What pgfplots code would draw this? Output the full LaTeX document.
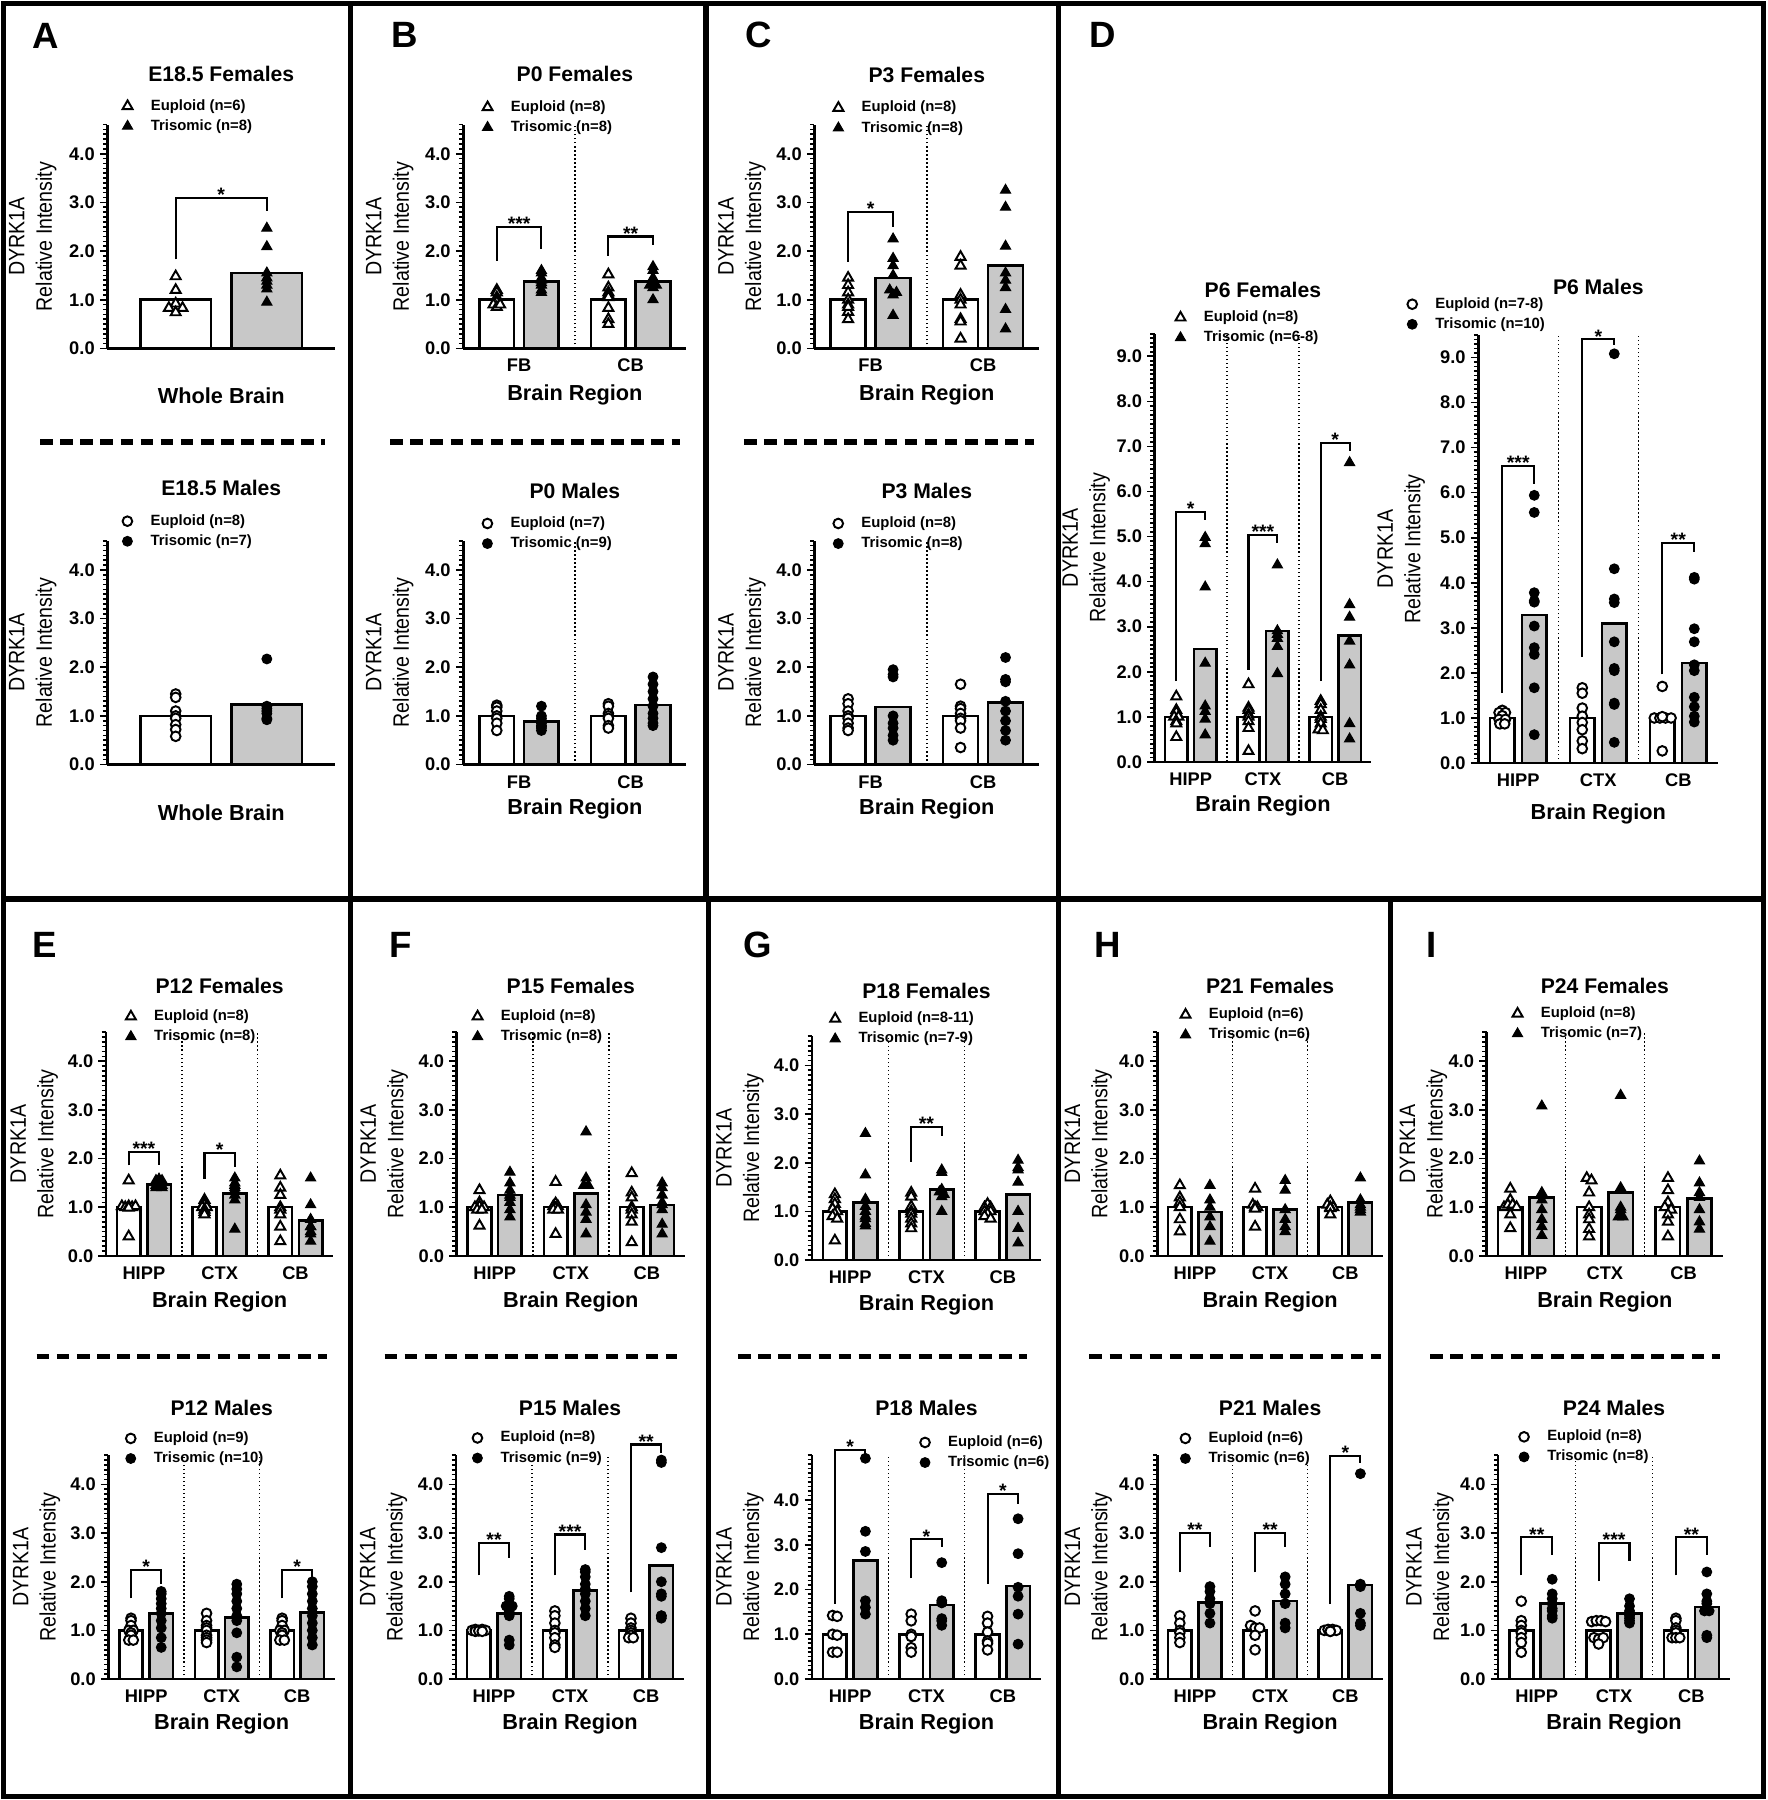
\documentclass[border=0pt]{standalone}
\usepackage{fontspec}
\setmainfont{Liberation Sans}
\newfontfamily\ylfont{Liberation Sans}[FakeStretch=0.88]
\usepackage{pgfplots}
\pgfplotsset{compat=1.18}
\definecolor{barg}{RGB}{200,200,200}
\newcommand{\ttl}{\bfseries\fontsize{18.5}{20}\selectfont}
\newcommand{\xlb}{\bfseries\fontsize{19}{21}\selectfont}
\newcommand{\ylb}{\ylfont\fontsize{19.5}{24}\selectfont}
\newcommand{\tkl}{\bfseries\fontsize{16}{17}\selectfont}
\newcommand{\xtk}{\bfseries\fontsize{16}{17}\selectfont}
\newcommand{\lgf}{\bfseries\fontsize{13}{14}\selectfont}
\newcommand{\stf}{\bfseries\fontsize{17}{17}\selectfont}
\tikzset{sig/.style={font=\stf, anchor=base, yshift=-3.2bp, inner sep=0pt}}
\pgfplotsset{
  legend image code/.code={\draw[#1] plot coordinates {(0bp,0bp)};},
  prism/.style={
    scale only axis, clip=false, anchor=south west,
    axis x line*=bottom, axis y line*=left,
    axis line style={line width=2.2bp, black},
    xmin=0.5, ymin=0,
    every tick/.style={black, line width=1.4bp},
    xtick style={draw=none},
    major tick length=6.5bp, minor tick length=3.8bp,
    minor y tick num=9,
    extra y tick style={major tick length=3.8bp},
    extra y tick labels={},
    tick align=outside,
    every axis title shift=0pt,
    yticklabel style={font=\tkl, anchor=east, xshift=-1bp},
    xticklabel style={font=\xtk, anchor=base, yshift=-14bp},
    title style={font=\ttl, anchor=center},
    xlabel style={font=\xlb, anchor=center},
    ylabel style={font=\ylb, align=center, anchor=center},
    legend style={draw=none, fill=none, font=\lgf, anchor=north west, inner sep=0pt, outer sep=0pt,
      row sep=5.5bp, column sep=16bp, nodes={inner sep=0pt, text height=9.5bp, text depth=2.5bp}},
    legend cell align=left,
  },
  tsh/.style={title style={at={([yshift=#1bp]axis description cs:0.5,1)}}},
  xsh/.style={xlabel style={at={([yshift=-#1bp]axis description cs:0.5,0)}}},
  ysh/.style={ylabel style={at={([xshift=-#1bp]axis description cs:0,0.5)}}},
  lsh/.style 2 args={legend style={at={([xshift=#1bp,yshift=#2bp]axis description cs:0,1)}}},
  h46/.style={height=195bp, ymax=4.6, ytick={0,1,2,3,4}, yticklabels={0.0,1.0,2.0,3.0,4.0}, extra y ticks={4.1,4.2,4.3,4.4,4.5,4.6}},
  h50/.style={height=195bp, ymax=5.0, ytick={0,1,2,3,4}, yticklabels={0.0,1.0,2.0,3.0,4.0}, extra y ticks={4.1,4.2,4.3,4.4,4.5,4.6,4.7,4.8,4.9,5.0}},
  h95/.style={height=373bp, ymax=9.5, ytick={0,1,2,3,4,5,6,7,8,9}, yticklabels={0.0,1.0,2.0,3.0,4.0,5.0,6.0,7.0,8.0,9.0}, extra y ticks={9.1,9.2,9.3,9.4,9.5}},
  cat1/.style={xmax=1.5, xtick=\empty},
  cat2/.style={xmax=2.5, xtick={1,2}, xticklabels={FB,CB}, xlabel={Brain Region}},
  cat3/.style={xmax=3.5, xtick={1,2,3}, xticklabels={HIPP,CTX,CB}, xlabel={Brain Region}},
  yl/.style={ylabel={DYRK1A\\Relative Intensity}},
  eupbar/.style={ybar, bar width=0.31, bar shift=0pt, fill=white, draw=black, line width=2.2bp, forget plot},
  tribar/.style={ybar, bar width=0.31, bar shift=0pt, fill=barg, draw=black, line width=2.2bp, forget plot},
  dsep/.style={black, line width=1.3bp, dash pattern=on 1.3bp off 2.2bp, forget plot},
  brkt/.style={black, line width=1.8bp, forget plot},
  eupF/.style={only marks, mark=triangle*, mark size=5bp, mark options={fill=white, draw=black, line width=1.7bp, solid}},
  triF/.style={only marks, mark=triangle*, mark size=5bp, mark options={fill=black, draw=black, line width=1bp, solid}},
  eupM/.style={only marks, mark=*, mark size=4.2bp, mark options={fill=white, draw=black, line width=1.7bp, solid}},
  triM/.style={only marks, mark=*, mark size=4.2bp, mark options={fill=black, draw=black, line width=1bp, solid}},
}
\begin{document}
\begin{tikzpicture}[x=1bp,y=1bp]
\useasboundingbox (0,0) rectangle (1540,-1568);
\fill[white] (0,0) rectangle (1540,-1568);

% ================= A =================
\begin{axis}[prism, h46, cat1, at={(93.5bp,-303.5bp)}, width=198.5bp,
 title={E18.5 Females}, tsh=44.5, xlabel={Whole Brain}, xsh=41.5, yl, ysh=65, lsh={13.3}{22}]
\addplot[eupbar] coordinates {(0.8,1.0)};
\addplot[tribar] coordinates {(1.2,1.55)};
\addplot[brkt] coordinates {(0.8,1.83)(0.8,3.09)(1.2,3.09)(1.2,2.82)};
\node[sig] at (axis cs:1,3.09) {*};
\addplot[eupF] coordinates {(0.8,1.48)(0.8,1.2)(0.8,0.92)(0.77,0.83)(0.83,0.83)(0.8,0.74)};
\addlegendentry{Euploid (n=6)}
\addplot[triF] coordinates {(1.2,2.47)(1.2,2.09)(1.2,1.55)(1.2,1.45)(1.2,1.38)(1.2,1.3)(1.2,1.22)(1.2,0.95)};
\addlegendentry{Trisomic (n=8)}
\end{axis}

\begin{axis}[prism, h46, cat1, at={(93.5bp,-666bp)}, width=198.5bp,
 title={E18.5 Males}, tsh=46, xlabel={Whole Brain}, xsh=41.6, yl, ysh=65, lsh={13.3}{23}]
\addplot[eupbar] coordinates {(0.8,1.0)};
\addplot[tribar] coordinates {(1.2,1.23)};
\addplot[eupM] coordinates {(0.8,1.45)(0.8,1.38)(0.8,1.1)(0.8,1.0)(0.8,0.95)(0.8,0.82)(0.8,0.72)(0.8,0.58)};
\addlegendentry{Euploid (n=8)}
\addplot[triM] coordinates {(1.2,2.17)(1.2,1.2)(1.2,1.15)(1.2,1.1)(1.2,1.05)(1.2,0.95)(1.2,0.92)};
\addlegendentry{Trisomic (n=7)}
\end{axis}

% ================= B =================
\begin{axis}[prism, h46, cat2, at={(403.6bp,-303.5bp)}, width=194.4bp,
 title={P0 Females}, tsh=44.5, xsh=40.5, yl, ysh=64, lsh={16.8}{21}]
\addplot[eupbar] coordinates {(0.8,1.0)(1.8,1.0)};
\addplot[tribar] coordinates {(1.2,1.37)(2.2,1.37)};
\addplot[dsep] coordinates {(1.5,0)(1.5,4.6)};
\addplot[brkt] coordinates {(0.8,1.8)(0.8,2.5)(1.2,2.5)(1.2,2.05)};
\node[sig] at (axis cs:1,2.5) {***};
\addplot[brkt] coordinates {(1.8,1.9)(1.8,2.3)(2.2,2.3)(2.2,2.12)};
\node[sig] at (axis cs:2,2.3) {**};
\addplot[eupF] coordinates {(0.8,1.2)(0.8,1.15)(0.8,1.05)(0.8,1.0)(0.8,0.95)(0.77,0.9)(0.8,0.85)(0.83,0.9)
 (1.8,1.52)(1.8,1.25)(1.8,1.15)(1.8,1.1)(1.8,1.05)(1.8,0.83)(1.8,0.6)(1.8,0.5)};
\addlegendentry{Euploid (n=8)}
\addplot[triF] coordinates {(1.2,1.6)(1.2,1.55)(1.2,1.45)(1.2,1.4)(1.2,1.35)(1.2,1.3)(1.2,1.2)(1.2,1.15)
 (2.2,1.68)(2.2,1.6)(2.2,1.45)(2.2,1.35)(2.17,1.3)(2.2,1.25)(2.2,1.0)(2.23,1.3)};
\addlegendentry{Trisomic (n=8)}
\end{axis}

\begin{axis}[prism, h46, cat2, at={(403.6bp,-666bp)}, width=194.4bp,
 title={P0 Males}, tsh=43.5, xsh=39, yl, ysh=64, lsh={16.8}{21}]
\addplot[eupbar] coordinates {(0.8,1.0)(1.8,1.0)};
\addplot[tribar] coordinates {(1.2,0.88)(2.2,1.22)};
\addplot[dsep] coordinates {(1.5,0)(1.5,4.6)};
\addplot[eupM] coordinates {(0.8,1.22)(0.8,1.18)(0.8,1.1)(0.8,1.0)(0.8,0.95)(0.8,0.85)(0.8,0.7)
 (1.8,1.25)(1.8,1.2)(1.8,1.05)(1.8,1.0)(1.8,0.95)(1.8,0.8)(1.8,0.75)};
\addlegendentry{Euploid (n=7)}
\addplot[triM] coordinates {(1.2,1.2)(1.2,1.0)(1.2,0.95)(1.2,0.9)(1.2,0.85)(1.2,0.8)(1.2,0.75)(1.2,0.7)(1.2,0.78)
 (2.2,1.8)(2.2,1.65)(2.2,1.5)(2.2,1.35)(2.2,1.2)(2.2,1.05)(2.2,0.95)(2.2,0.85)(2.2,0.8)};
\addlegendentry{Trisomic (n=9)}
\end{axis}

% ================= C =================
\begin{axis}[prism, h46, cat2, at={(709.4bp,-303.5bp)}, width=195.9bp,
 title={P3 Females}, tsh=43.5, xsh=40.5, yl, ysh=63, lsh={16.6}{20.5}]
\addplot[eupbar] coordinates {(0.8,1.0)(1.8,1.0)};
\addplot[tribar] coordinates {(1.2,1.45)(2.2,1.7)};
\addplot[dsep] coordinates {(1.5,0)(1.5,4.6)};
\addplot[brkt] coordinates {(0.8,1.78)(0.8,2.8)(1.2,2.8)(1.2,2.5)};
\node[sig] at (axis cs:1,2.8) {*};
\addplot[eupF] coordinates {(0.8,1.45)(0.8,1.3)(0.8,1.15)(0.8,1.0)(0.8,0.9)(0.8,0.75)(0.8,0.6)(0.8,0.85)
 (1.8,1.88)(1.8,1.7)(1.8,1.1)(1.8,1.0)(1.8,0.9)(1.8,0.6)(1.8,0.55)(1.8,0.2)};
\addlegendentry{Euploid (n=8)}
\addplot[triF] coordinates {(1.2,2.25)(1.2,1.85)(1.2,1.7)(1.2,1.5)(1.17,1.2)(1.23,1.15)(1.2,1.1)(1.2,0.68)
 (2.2,3.25)(2.2,2.9)(2.2,2.1)(2.2,1.55)(2.2,1.4)(2.2,1.25)(2.2,0.8)(2.2,0.4)};
\addlegendentry{Trisomic (n=8)}
\end{axis}

\begin{axis}[prism, h46, cat2, at={(709.4bp,-666bp)}, width=195.9bp,
 title={P3 Males}, tsh=43.5, xsh=39, yl, ysh=63, lsh={16.6}{21}]
\addplot[eupbar] coordinates {(0.8,1.0)(1.8,1.0)};
\addplot[tribar] coordinates {(1.2,1.18)(2.2,1.27)};
\addplot[dsep] coordinates {(1.5,0)(1.5,4.6)};
\addplot[eupM] coordinates {(0.8,1.35)(0.8,1.25)(0.8,1.1)(0.8,1.0)(0.8,0.95)(0.8,0.85)(0.8,0.75)(0.8,0.7)
 (1.8,1.65)(1.8,1.2)(1.8,1.15)(1.8,1.05)(1.8,0.95)(1.8,0.9)(1.8,0.75)(1.8,0.35)};
\addlegendentry{Euploid (n=8)}
\addplot[triM] coordinates {(1.2,1.95)(1.2,1.85)(1.2,1.8)(1.2,1.0)(1.2,0.85)(1.2,0.75)(1.2,0.6)(1.2,0.5)
 (2.2,2.2)(2.2,1.75)(2.2,1.7)(2.2,1.3)(2.2,1.1)(2.2,0.9)(2.2,0.7)(2.2,0.5)};
\addlegendentry{Trisomic (n=8)}
\end{axis}

% ================= D =================
\begin{axis}[prism, h95, cat3, at={(1005.8bp,-663.7bp)}, width=188.7bp,
 title={P6 Females}, tsh=38, xsh=38.3, yl, ysh=59.5, lsh={18.2}{20}]
\addplot[eupbar] coordinates {(0.8,1.0)(1.8,1.0)(2.8,1.0)};
\addplot[tribar] coordinates {(1.2,2.5)(2.2,2.9)(3.2,2.8)};
\addplot[dsep] coordinates {(1.5,0)(1.5,9.5)};
\addplot[dsep] coordinates {(2.5,0)(2.5,9.5)};
\addplot[brkt] coordinates {(0.8,1.79)(0.8,5.55)(1.2,5.55)(1.2,5.37)};
\node[sig] at (axis cs:1,5.55) {*};
\addplot[brkt] coordinates {(1.8,2.04)(1.8,5.03)(2.2,5.03)(2.2,4.86)};
\node[sig] at (axis cs:2,5.03) {***};
\addplot[brkt] coordinates {(2.8,1.79)(2.8,7.07)(3.2,7.07)(3.2,6.9)};
\node[sig] at (axis cs:3,7.07) {*};
\addplot[eupF] coordinates {(0.8,1.45)(0.8,1.15)(0.8,1.1)(0.77,1.0)(0.83,1.0)(0.8,0.9)(0.8,0.85)(0.8,0.55)
 (1.8,1.72)(1.8,1.2)(1.8,1.15)(1.8,1.05)(1.8,1.0)(1.8,0.9)(1.8,0.75)(1.8,0.24)
 (2.8,1.35)(2.8,1.28)(2.8,1.15)(2.8,1.0)(2.8,0.95)(2.8,0.85)(2.77,0.72)(2.83,0.7)};
\addlegendentry{Euploid (n=8)}
\addplot[triF] coordinates {(1.2,4.98)(1.2,4.84)(1.2,3.88)(1.2,2.19)(1.2,1.24)(1.2,1.12)(1.2,0.95)(1.2,0.6)
 (2.2,4.37)(2.2,2.91)(2.2,2.83)(2.2,2.74)(2.2,2.56)(2.2,1.96)
 (3.2,6.64)(3.2,3.49)(3.2,3.21)(3.2,2.68)(3.2,2.15)(3.2,0.85)(3.2,0.51)};
\addlegendentry{Trisomic (n=6-8)}
\end{axis}

\begin{axis}[prism, h95, cat3, at={(1287.7bp,-664.7bp)}, width=209.1bp,
 title={P6 Males}, tsh=41.7, xsh=44, yl, ysh=67, lsh={-61.7}{32.7}]
\addplot[eupbar] coordinates {(0.8,1.0)(1.8,1.0)(2.8,1.0)};
\addplot[tribar] coordinates {(1.2,3.28)(2.2,3.1)(3.2,2.22)};
\addplot[dsep] coordinates {(1.5,0)(1.5,9.5)};
\addplot[dsep] coordinates {(2.5,0)(2.5,9.5)};
\addplot[brkt] coordinates {(0.8,1.55)(0.8,6.6)(1.2,6.6)(1.2,6.19)};
\node[sig] at (axis cs:1,6.6) {***};
\addplot[brkt] coordinates {(1.8,2.35)(1.8,9.4)(2.2,9.4)(2.2,9.27)};
\node[sig] at (axis cs:2,9.4) {*};
\addplot[brkt] coordinates {(2.8,1.97)(2.8,4.88)(3.2,4.88)(3.2,4.69)};
\node[sig] at (axis cs:3,4.88) {**};
\addplot[eupM] coordinates {(0.8,1.17)(0.76,1.12)(0.84,1.12)(0.8,1.05)(0.76,0.97)(0.84,0.97)(0.77,0.87)(0.83,0.87)
 (1.8,1.67)(1.8,1.55)(1.8,1.22)(1.8,1.04)(1.8,0.9)(1.8,0.74)(1.8,0.49)(1.8,0.32)
 (2.8,1.7)(2.7,1.0)(2.77,1.0)(2.84,1.0)(2.91,1.0)(2.8,1.03)(2.8,0.27)};
\addlegendentry{Euploid (n=7-8)}
\addplot[triM] coordinates {(1.2,5.94)(1.2,5.56)(1.2,3.78)(1.2,3.6)(1.2,3.57)(1.2,3.04)(1.2,2.56)(1.2,2.41)(1.2,1.67)(1.2,0.63)
 (2.2,9.08)(2.2,4.31)(2.2,3.64)(2.2,3.56)(2.2,2.69)(2.2,2.05)(2.2,2.1)(2.2,1.33)(2.2,1.3)(2.2,0.46)
 (3.2,4.12)(3.2,4.08)(3.2,2.98)(3.2,2.69)(3.2,2.18)(3.2,2.05)(3.2,1.46)(3.2,1.25)(3.2,1.04)(3.2,0.91)};
\addlegendentry{Trisomic (n=10)}
\end{axis}

% ================= E =================
\begin{axis}[prism, h46, cat3, at={(92.3bp,-1094bp)}, width=198.1bp,
 title={P12 Females}, tsh=40, xsh=40, yl, ysh=62.5, lsh={17.4}{19.5}]
\addplot[eupbar] coordinates {(0.8,1.0)(1.8,1.0)(2.8,1.0)};
\addplot[tribar] coordinates {(1.2,1.47)(2.2,1.28)(3.2,0.73)};
\addplot[dsep] coordinates {(1.5,0)(1.5,4.6)};
\addplot[dsep] coordinates {(2.5,0)(2.5,4.6)};
\addplot[brkt] coordinates {(0.8,1.86)(0.8,2.14)(1.2,2.14)(1.2,1.86)};
\node[sig] at (axis cs:1,2.14) {***};
\addplot[brkt] coordinates {(1.8,1.59)(1.8,2.12)(2.2,2.12)(2.2,1.82)};
\node[sig] at (axis cs:2,2.12) {*};
\addplot[eupF] coordinates {(0.8,1.55)(0.71,1.02)(0.755,1.0)(0.8,1.02)(0.845,1.0)(0.89,1.02)(0.8,0.99)(0.8,0.4)
 (1.8,1.15)(1.8,1.1)(1.8,1.05)(1.77,1.0)(1.83,1.0)(1.8,0.95)(1.8,0.9)(1.8,0.85)
 (2.8,1.65)(2.8,1.4)(2.8,1.25)(2.8,1.0)(2.8,0.95)(2.8,0.85)(2.8,0.6)(2.8,0.3)};
\addlegendentry{Euploid (n=8)}
\addplot[triF] coordinates {(1.16,1.55)(1.24,1.55)(1.2,1.58)(1.16,1.45)(1.24,1.45)(1.2,1.48)(1.16,1.4)(1.24,1.4)
 (2.2,1.6)(2.2,1.5)(2.2,1.45)(2.2,1.4)(2.2,1.35)(2.2,1.25)(2.2,1.15)(2.2,0.55)
 (3.2,1.6)(3.2,1.05)(3.2,0.75)(3.2,0.6)(3.2,0.5)(3.2,0.45)(3.2,0.3)(3.2,0.6)};
\addlegendentry{Trisomic (n=8)}
\end{axis}

\begin{axis}[prism, h46, cat3, at={(94.4bp,-1462.6bp)}, width=197.4bp,
 title={P12 Males}, tsh=41, xsh=39, yl, ysh=62.5, lsh={15.3}{20.6}]
\addplot[eupbar] coordinates {(0.8,1.0)(1.8,1.0)(2.8,1.0)};
\addplot[tribar] coordinates {(1.2,1.35)(2.2,1.27)(3.2,1.37)};
\addplot[dsep] coordinates {(1.5,0)(1.5,4.6)};
\addplot[dsep] coordinates {(2.5,0)(2.5,4.6)};
\addplot[brkt] coordinates {(0.8,1.66)(0.8,2.25)(1.2,2.25)(1.2,1.95)};
\node[sig] at (axis cs:1,2.25) {*};
\addplot[brkt] coordinates {(2.8,1.66)(2.8,2.25)(3.2,2.25)(3.2,2.0)};
\node[sig] at (axis cs:3,2.25) {*};
\addplot[eupM] coordinates {(0.8,1.25)(0.8,1.2)(0.8,1.1)(0.77,1.0)(0.83,1.0)(0.8,0.95)(0.8,0.9)(0.77,0.8)(0.83,0.8)
 (1.8,1.35)(1.8,1.2)(1.8,1.1)(1.8,1.05)(1.8,1.0)(1.8,0.9)(1.8,0.85)(1.8,0.8)(1.8,0.75)
 (2.8,1.25)(2.8,1.2)(2.8,1.1)(2.77,1.0)(2.83,1.0)(2.8,0.95)(2.8,0.9)(2.77,0.8)(2.83,0.8)};
\addlegendentry{Euploid (n=9)}
\addplot[triM] coordinates {(1.2,1.8)(1.2,1.75)(1.2,1.65)(1.2,1.55)(1.2,1.45)(1.2,1.35)(1.2,1.2)(1.2,1.05)(1.2,0.85)(1.2,0.65)
 (2.2,1.95)(2.2,1.85)(2.2,1.75)(2.2,1.6)(2.2,1.45)(2.2,1.3)(2.2,1.2)(2.2,0.95)(2.2,0.45)(2.2,0.25)
 (3.2,2.0)(3.2,1.9)(3.2,1.75)(3.2,1.6)(3.2,1.45)(3.2,1.3)(3.2,1.15)(3.2,1.0)(3.2,0.85)(3.2,0.7)};
\addlegendentry{Trisomic (n=10)}
\end{axis}

% ================= F =================
\begin{axis}[prism, h46, cat3, at={(397.8bp,-1094bp)}, width=198.9bp,
 title={P15 Females}, tsh=40, xsh=40, yl, ysh=63, lsh={13.9}{19.5}]
\addplot[eupbar] coordinates {(0.8,1.0)(1.8,1.0)(2.8,1.0)};
\addplot[tribar] coordinates {(1.2,1.25)(2.2,1.28)(3.2,1.05)};
\addplot[dsep] coordinates {(1.5,0)(1.5,4.6)};
\addplot[dsep] coordinates {(2.5,0)(2.5,4.6)};
\addplot[eupF] coordinates {(0.8,1.35)(0.8,1.1)(0.74,1.0)(0.8,1.02)(0.86,1.0)(0.77,0.95)(0.83,0.95)(0.8,0.62)
 (1.8,1.52)(1.8,1.08)(1.77,1.02)(1.83,1.02)(1.8,0.98)(1.77,0.95)(1.83,0.95)(1.8,0.45)
 (2.8,1.7)(2.8,1.3)(2.8,1.2)(2.8,1.0)(2.8,0.95)(2.8,0.85)(2.8,0.7)(2.8,0.28)};
\addlegendentry{Euploid (n=8)}
\addplot[triF] coordinates {(1.2,1.72)(1.2,1.5)(1.2,1.35)(1.2,1.25)(1.2,1.2)(1.2,1.1)(1.2,0.95)(1.2,0.8)
 (2.2,2.55)(2.2,1.6)(2.17,1.45)(2.23,1.45)(2.2,1.05)(2.2,0.9)(2.2,0.75)(2.2,0.45)
 (3.2,1.5)(3.2,1.4)(3.2,1.25)(3.2,1.1)(3.2,1.05)(3.2,0.95)(3.2,0.65)(3.2,0.45)};
\addlegendentry{Trisomic (n=8)}
\end{axis}

\begin{axis}[prism, h46, cat3, at={(397.2bp,-1462.6bp)}, width=198.8bp,
 title={P15 Males}, tsh=41, xsh=39, yl, ysh=63, lsh={14.5}{21}]
\addplot[eupbar] coordinates {(0.8,1.0)(1.8,1.0)(2.8,1.0)};
\addplot[tribar] coordinates {(1.2,1.35)(2.2,1.82)(3.2,2.33)};
\addplot[dsep] coordinates {(1.5,0)(1.5,4.6)};
\addplot[dsep] coordinates {(2.5,0)(2.5,4.6)};
\addplot[brkt] coordinates {(0.8,2.13)(0.8,2.8)(1.2,2.8)(1.2,2.48)};
\node[sig] at (axis cs:1,2.8) {**};
\addplot[brkt] coordinates {(1.8,2.13)(1.8,2.97)(2.2,2.97)(2.2,2.65)};
\node[sig] at (axis cs:2,2.97) {***};
\addplot[brkt] coordinates {(2.8,1.78)(2.8,4.82)(3.2,4.82)(3.2,4.64)};
\node[sig] at (axis cs:3,4.82) {**};
\addplot[eupM] coordinates {(0.71,1.0)(0.755,1.02)(0.8,1.0)(0.845,1.02)(0.89,1.0)(0.755,0.98)(0.8,0.99)(0.845,0.98)
 (1.8,1.4)(1.8,1.3)(1.8,1.15)(1.8,1.0)(1.8,0.95)(1.8,0.85)(1.8,0.7)(1.8,0.65)
 (2.8,1.25)(2.8,1.15)(2.8,1.05)(2.8,1.0)(2.8,0.95)(2.8,0.9)(2.77,0.85)(2.83,0.85)};
\addlegendentry{Euploid (n=8)}
\addplot[triM] coordinates {(1.2,1.7)(1.2,1.65)(1.2,1.55)(1.16,1.5)(1.24,1.5)(1.2,1.4)(1.2,1.3)(1.2,0.8)(1.2,0.7)
 (2.2,2.25)(2.2,2.2)(2.2,2.1)(2.2,1.95)(2.2,1.85)(2.2,1.75)(2.2,1.6)(2.2,1.45)(2.2,1.3)
 (3.2,4.5)(3.2,4.45)(3.2,2.7)(3.2,2.0)(3.2,1.75)(3.2,1.7)(3.2,1.3)(3.2,1.25)(3.2,1.3)};
\addlegendentry{Trisomic (n=9)}
\end{axis}

% ================= G =================
\begin{axis}[prism, h46, cat3, at={(707.3bp,-1097.6bp)}, width=199.5bp,
 title={P18 Females}, tsh=39.6, xsh=39, yl, ysh=62.6, lsh={15.9}{21.1}]
\addplot[eupbar] coordinates {(0.8,1.0)(1.8,1.0)(2.8,1.0)};
\addplot[tribar] coordinates {(1.2,1.18)(2.2,1.45)(3.2,1.35)};
\addplot[dsep] coordinates {(1.5,0)(1.5,4.6)};
\addplot[dsep] coordinates {(2.5,0)(2.5,4.6)};
\addplot[brkt] coordinates {(1.8,2.02)(1.8,2.73)(2.2,2.73)(2.2,2.55)};
\node[sig] at (axis cs:2,2.73) {**};
\addplot[eupF] coordinates {(0.8,1.35)(0.8,1.25)(0.8,1.15)(0.77,1.05)(0.83,1.0)(0.8,0.95)(0.77,0.9)(0.83,0.85)(0.8,0.4)
 (1.8,1.38)(1.8,1.3)(1.8,1.1)(1.8,1.0)(1.8,0.95)(1.8,0.85)(1.8,0.75)(1.8,0.65)
 (2.8,1.15)(2.76,1.08)(2.84,1.08)(2.76,1.0)(2.84,1.0)(2.8,0.95)(2.76,0.9)(2.84,0.85)};
\addlegendentry{Euploid (n=8-11)}
\addplot[triF] coordinates {(1.2,2.6)(1.2,1.75)(1.2,1.25)(1.2,1.1)(1.2,1.0)(1.2,0.9)(1.2,0.85)(1.2,0.75)(1.2,0.7)
 (2.2,1.85)(2.2,1.8)(2.2,1.45)(2.17,1.4)(2.23,1.35)(2.2,1.3)(2.2,1.0)
 (3.2,2.05)(3.2,1.9)(3.2,1.85)(3.2,1.6)(3.2,1.0)(3.2,0.65)(3.2,0.35)};
\addlegendentry{Trisomic (n=7-9)}
\end{axis}

\begin{axis}[prism, h50, cat3, at={(707.3bp,-1462.6bp)}, width=199.5bp,
 title={P18 Males}, tsh=41, xsh=39, yl, ysh=62.6, lsh={94.3}{17.1}]
\addplot[eupbar] coordinates {(0.8,1.0)(1.8,1.0)(2.8,1.0)};
\addplot[tribar] coordinates {(1.2,2.65)(2.2,1.65)(3.2,2.08)};
\addplot[dsep] coordinates {(1.5,0)(1.5,5.0)};
\addplot[dsep] coordinates {(2.5,0)(2.5,5.0)};
\addplot[brkt] coordinates {(0.8,1.68)(0.8,5.12)(1.2,5.12)(1.2,5.02)};
\node[sig] at (axis cs:1,5.12) {*};
\addplot[brkt] coordinates {(1.8,2.25)(1.8,3.12)(2.2,3.12)(2.2,2.95)};
\node[sig] at (axis cs:2,3.12) {*};
\addplot[brkt] coordinates {(2.8,2.13)(2.8,4.13)(3.2,4.13)(3.2,3.9)};
\node[sig] at (axis cs:3,4.13) {*};
\addplot[eupM] coordinates {(0.77,1.42)(0.83,1.4)(0.77,1.0)(0.83,0.98)(0.77,0.6)(0.83,0.6)
 (1.8,1.45)(1.8,1.3)(1.8,1.0)(1.8,0.95)(1.8,0.7)(1.8,0.6)
 (2.8,1.4)(2.8,1.25)(2.8,1.05)(2.8,0.85)(2.8,0.8)(2.8,0.65)};
\addlegendentry{Euploid (n=6)}
\addplot[triM] coordinates {(1.2,4.93)(1.2,3.3)(1.2,2.85)(1.2,1.75)(1.2,1.6)(1.2,1.45)
 (2.2,2.6)(2.2,1.75)(2.2,1.7)(2.2,1.35)(2.2,1.3)(2.2,1.2)
 (3.2,3.58)(3.2,2.8)(3.2,2.05)(3.2,1.85)(3.2,1.45)(3.2,0.78)};
\addlegendentry{Trisomic (n=6)}
\end{axis}

% ================= H =================
\begin{axis}[prism, h46, cat3, at={(1008.1bp,-1094bp)}, width=196.6bp,
 title={P21 Females}, tsh=40, xsh=40, yl, ysh=60, lsh={20.3}{21}]
\addplot[eupbar] coordinates {(0.8,1.0)(1.8,1.0)(2.8,1.0)};
\addplot[tribar] coordinates {(1.2,0.9)(2.2,0.95)(3.2,1.1)};
\addplot[dsep] coordinates {(1.5,0)(1.5,4.6)};
\addplot[dsep] coordinates {(2.5,0)(2.5,4.6)};
\addplot[eupF] coordinates {(0.8,1.45)(0.8,1.2)(0.8,1.1)(0.8,1.0)(0.8,0.75)(0.8,0.5)
 (1.8,1.38)(1.77,1.05)(1.83,1.0)(1.8,1.0)(1.8,0.97)(1.8,0.6)
 (2.8,1.12)(2.76,1.05)(2.84,1.0)(2.8,1.0)(2.8,0.98)(2.8,0.85)};
\addlegendentry{Euploid (n=6)}
\addplot[triF] coordinates {(1.2,1.45)(1.2,1.15)(1.2,1.0)(1.2,0.8)(1.2,0.6)(1.2,0.3)
 (2.2,1.55)(2.2,1.35)(2.2,0.95)(2.2,0.75)(2.2,0.6)(2.2,0.5)
 (3.2,1.6)(3.2,1.15)(3.2,1.05)(3.2,1.0)(3.2,0.95)(3.2,0.9)};
\addlegendentry{Trisomic (n=6)}
\end{axis}

\begin{axis}[prism, h46, cat3, at={(1008.1bp,-1462.6bp)}, width=196.6bp,
 title={P21 Males}, tsh=41, xsh=39, yl, ysh=60, lsh={20.3}{20.6}]
\addplot[eupbar] coordinates {(0.8,1.0)(1.8,1.0)(2.8,1.0)};
\addplot[tribar] coordinates {(1.2,1.57)(2.2,1.6)(3.2,1.93)};
\addplot[dsep] coordinates {(1.5,0)(1.5,4.6)};
\addplot[dsep] coordinates {(2.5,0)(2.5,4.6)};
\addplot[brkt] coordinates {(0.8,2.19)(0.8,3.0)(1.2,3.0)(1.2,2.71)};
\node[sig] at (axis cs:1,3.0) {**};
\addplot[brkt] coordinates {(1.8,2.19)(1.8,3.0)(2.2,3.0)(2.2,2.71)};
\node[sig] at (axis cs:2,3.0) {**};
\addplot[brkt] coordinates {(2.8,1.54)(2.8,4.58)(3.2,4.58)(3.2,4.43)};
\node[sig] at (axis cs:3,4.58) {*};
\addplot[eupM] coordinates {(0.8,1.3)(0.8,1.15)(0.8,1.0)(0.8,0.95)(0.8,0.85)(0.8,0.75)
 (1.8,1.4)(1.74,1.1)(1.8,1.05)(1.86,1.05)(1.8,0.9)(1.8,0.6)
 (2.72,1.0)(2.77,1.02)(2.83,1.02)(2.88,1.0)(2.8,0.98)(2.8,0.98)};
\addlegendentry{Euploid (n=6)}
\addplot[triM] coordinates {(1.2,1.9)(1.2,1.8)(1.2,1.65)(1.2,1.55)(1.2,1.35)(1.2,1.15)
 (2.2,2.1)(2.2,1.95)(2.2,1.75)(2.2,1.55)(2.2,1.15)(2.2,1.05)
 (3.2,4.22)(3.2,1.95)(3.2,1.9)(3.2,1.35)(3.2,1.15)(3.2,1.1)};
\addlegendentry{Trisomic (n=6)}
\end{axis}

% ================= I =================
\begin{axis}[prism, h46, cat3, at={(1295bp,-1094bp)}, width=206bp,
 title={P24 Females}, tsh=40, xsh=40, yl, ysh=55, lsh={22.6}{22}]
\addplot[eupbar] coordinates {(0.8,1.0)(1.8,1.0)(2.8,1.0)};
\addplot[tribar] coordinates {(1.2,1.2)(2.2,1.3)(3.2,1.18)};
\addplot[dsep] coordinates {(1.5,0)(1.5,4.6)};
\addplot[dsep] coordinates {(2.5,0)(2.5,4.6)};
\addplot[eupF] coordinates {(0.8,1.38)(0.8,1.15)(0.72,1.0)(0.77,1.05)(0.83,1.05)(0.88,1.0)(0.8,0.85)(0.8,0.57)
 (1.77,1.6)(1.83,1.55)(1.8,1.3)(1.8,1.0)(1.8,0.85)(1.8,0.75)(1.8,0.55)(1.8,0.4)
 (2.8,1.6)(2.8,1.35)(2.8,1.1)(2.76,1.0)(2.84,0.95)(2.8,0.85)(2.8,0.7)(2.8,0.4)};
\addlegendentry{Euploid (n=8)}
\addplot[triF] coordinates {(1.2,3.08)(1.2,1.3)(1.2,1.15)(1.2,0.95)(1.2,0.75)(1.2,0.6)(1.2,0.42)
 (2.2,3.3)(2.2,1.4)(2.2,1.0)(2.2,0.95)(2.2,0.85)(2.17,0.8)(2.23,0.8)
 (3.2,1.95)(3.2,1.5)(3.2,1.3)(3.2,1.2)(3.2,0.95)(3.2,0.7)(3.2,0.55)};
\addlegendentry{Trisomic (n=7)}
\end{axis}

\begin{axis}[prism, h46, cat3, at={(1305bp,-1462.6bp)}, width=202bp,
 title={P24 Males}, tsh=41, xsh=39, yl, ysh=59.4, lsh={18.4}{22}]
\addplot[eupbar] coordinates {(0.8,1.0)(1.8,1.0)(2.8,1.0)};
\addplot[tribar] coordinates {(1.2,1.55)(2.2,1.35)(3.2,1.48)};
\addplot[dsep] coordinates {(1.5,0)(1.5,4.6)};
\addplot[dsep] coordinates {(2.5,0)(2.5,4.6)};
\addplot[brkt] coordinates {(0.8,2.13)(0.8,2.91)(1.2,2.91)(1.2,2.54)};
\node[sig] at (axis cs:1,2.91) {**};
\addplot[brkt] coordinates {(1.8,2.01)(1.8,2.8)(2.2,2.8)(2.2,2.42)};
\node[sig] at (axis cs:2,2.8) {***};
\addplot[brkt] coordinates {(2.8,2.13)(2.8,2.91)(3.2,2.91)(3.2,2.54)};
\node[sig] at (axis cs:3,2.91) {**};
\addplot[eupM] coordinates {(0.8,1.6)(0.8,1.2)(0.8,1.1)(0.8,1.0)(0.8,0.95)(0.8,0.85)(0.8,0.75)(0.8,0.55)
 (1.71,1.18)(1.77,1.2)(1.83,1.2)(1.89,1.18)(1.74,0.85)(1.8,0.82)(1.86,0.85)(1.8,0.72)
 (2.8,1.25)(2.8,1.2)(2.8,1.05)(2.8,1.0)(2.8,0.95)(2.75,0.85)(2.8,0.85)(2.85,0.85)};
\addlegendentry{Euploid (n=8)}
\addplot[triM] coordinates {(1.2,2.05)(1.2,1.75)(1.2,1.65)(1.2,1.55)(1.2,1.45)(1.2,1.4)(1.2,1.3)(1.2,1.25)
 (2.2,1.65)(2.2,1.5)(2.2,1.4)(2.2,1.35)(2.2,1.3)(2.2,1.25)(2.2,1.2)(2.2,1.15)
 (3.2,2.2)(3.2,1.75)(3.2,1.6)(3.2,1.55)(3.17,1.4)(3.23,1.4)(3.2,0.9)(3.2,0.85)};
\addlegendentry{Trisomic (n=8)}
\end{axis}

% ================= frames, separators, letters =================
\draw[line width=4.5bp] (3,-3) rectangle (1536,-1565);
\draw[line width=5bp] (3,-783) -- (1536,-783);
\foreach \xx in {305,615,922} \draw[line width=4.5bp] (\xx,-3) -- (\xx,-783);
\foreach \xx in {305,617,922,1211} \draw[line width=4.5bp] (\xx,-783) -- (\xx,-1565);
\begin{scope}[line width=4.5bp, dash pattern=on 11bp off 6.5bp]
\draw (35,-385) -- (283,-385);
\draw (340,-385) -- (592,-385);
\draw (648,-385) -- (901,-385);
\draw (32,-1181.5) -- (285,-1181.5);
\draw (335,-1181.5) -- (590,-1181.5);
\draw (643,-1181.5) -- (895,-1181.5);
\draw (949,-1181.5) -- (1203,-1181.5);
\draw (1246,-1181.5) -- (1498,-1181.5);
\end{scope}
\begin{scope}[every node/.style={font=\bfseries\fontsize{32}{32}\selectfont, inner sep=0pt}]
\node at (40,-31) {A};
\node at (352.7,-30) {B};
\node at (661,-30) {C};
\node at (961,-30) {D};
\node at (39,-823) {E};
\node at (349,-823) {F};
\node at (660,-823) {G};
\node at (965,-823) {H};
\node at (1247,-823) {I};
\end{scope}
\end{tikzpicture}
\end{document}
